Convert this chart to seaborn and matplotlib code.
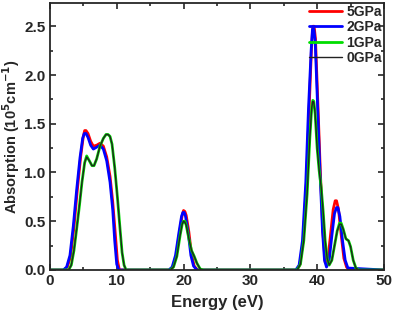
import numpy as np
import pandas as pd
import matplotlib
matplotlib.use("Agg")
import matplotlib.pyplot as plt
from matplotlib.ticker import MultipleLocator
import seaborn as sns

sns.set_style("ticks")
plt.rcParams['font.family'] = ['Liberation Sans', 'DejaVu Sans']
plt.rcParams['font.weight'] = 'bold'
plt.rcParams['axes.labelweight'] = 'bold'
plt.rcParams['mathtext.default'] = 'bf'

# absorption spectra (energy in eV, absorption in 1e5 cm^-1)
e_5gpa = [0, 2.1, 2.6, 3.1, 3.6, 4.1, 4.6, 5.0, 5.2, 5.4, 5.7, 6.1, 6.5, 7.0, 7.5, 8.0, 8.5, 9.0, 9.4, 9.8, 10.1, 10.4,
          17.9, 18.4, 18.9, 19.4, 19.8, 20.0, 20.2, 20.4, 20.8, 21.2, 21.6, 22.1,
          36.9, 37.4, 37.9, 38.4, 38.8, 39.15, 39.35, 39.55, 39.75, 40.05, 40.45, 40.85, 41.2, 41.6, 42.0, 42.4, 42.7, 42.9,
          43.2, 43.6, 44.0, 44.4, 44.8, 50]
a_5gpa = [0, 0, 0.03, 0.14, 0.44, 0.82, 1.16, 1.37, 1.43, 1.43, 1.40, 1.32, 1.27, 1.28, 1.30, 1.27, 1.16, 0.96, 0.70, 0.36, 0.10, 0,
          0, 0.03, 0.15, 0.38, 0.56, 0.61, 0.60, 0.56, 0.39, 0.16, 0.04, 0,
          0, 0.05, 0.30, 0.90, 1.65, 2.27, 2.50, 2.50, 2.37, 1.82, 1.06, 0.40, 0.08, 0.10, 0.36, 0.62, 0.71, 0.71,
          0.62, 0.36, 0.12, 0.03, 0, 0]

e_2gpa = [0, 2.0, 2.5, 3.0, 3.5, 4.0, 4.5, 4.9, 5.15, 5.4, 5.7, 6.1, 6.5, 7.0, 7.5, 8.0, 8.5, 9.0, 9.4, 9.7, 10.0, 10.3,
          17.8, 18.3, 18.8, 19.3, 19.7, 19.9, 20.1, 20.3, 20.7, 21.1, 21.5, 22.0,
          36.8, 37.3, 37.8, 38.3, 38.7, 39.1, 39.3, 39.5, 39.7, 40.0, 40.4, 40.8, 41.1, 41.4, 41.8, 42.2, 42.6, 42.9, 43.1,
          43.4, 43.8, 44.2, 44.6, 50]
a_2gpa = [0, 0, 0.03, 0.15, 0.45, 0.82, 1.15, 1.35, 1.40, 1.40, 1.36, 1.28, 1.24, 1.26, 1.28, 1.24, 1.12, 0.90, 0.62, 0.30, 0.06, 0,
          0, 0.03, 0.15, 0.38, 0.55, 0.59, 0.59, 0.55, 0.38, 0.15, 0.04, 0,
          0, 0.05, 0.30, 0.90, 1.65, 2.25, 2.47, 2.47, 2.35, 1.80, 1.05, 0.40, 0.10, 0.03, 0.10, 0.35, 0.58, 0.64, 0.64,
          0.55, 0.30, 0.10, 0.02, 0]

e_1gpa = [0, 2.8, 3.2, 3.6, 4.0, 4.4, 4.8, 5.2, 5.5, 5.9, 6.3, 6.6, 7.0, 7.5, 8.0, 8.4, 8.7, 9.0, 9.3, 9.7, 10.1, 10.5, 10.8, 11.1, 11.4,
          18.0, 18.5, 19.0, 19.5, 19.8, 20.0, 20.2, 20.4, 20.8, 21.2, 21.6, 22.0, 22.5, 23.0,
          37.0, 37.5, 38.0, 38.5, 38.9, 39.2, 39.35, 39.5, 39.7, 40.0, 40.3, 40.6, 40.9, 41.2, 41.5, 41.8, 42.2, 42.6, 43.0,
          43.35, 43.6, 43.9, 44.3, 44.7, 45.0, 45.4, 45.8, 46.2, 50]
a_1gpa = [0, 0, 0.05, 0.20, 0.42, 0.65, 0.90, 1.10, 1.17, 1.12, 1.07, 1.07, 1.14, 1.27, 1.35, 1.39, 1.39, 1.37, 1.29, 1.05, 0.75, 0.42, 0.18, 0.05, 0,
          0, 0.03, 0.14, 0.36, 0.47, 0.50, 0.50, 0.46, 0.32, 0.20, 0.14, 0.07, 0.01, 0,
          0, 0.06, 0.30, 0.78, 1.35, 1.68, 1.74, 1.73, 1.60, 1.25, 1.02, 0.85, 0.60, 0.30, 0.12, 0.05, 0.10, 0.25, 0.40,
          0.48, 0.48, 0.42, 0.32, 0.30, 0.24, 0.10, 0.02, 0, 0]

e_0gpa = e_1gpa
a_0gpa = [0, 0, 0.05, 0.20, 0.42, 0.65, 0.90, 1.10, 1.16, 1.12, 1.07, 1.07, 1.14, 1.27, 1.35, 1.39, 1.39, 1.37, 1.29, 1.05, 0.75, 0.42, 0.18, 0.05, 0,
          0, 0.03, 0.14, 0.36, 0.47, 0.50, 0.49, 0.46, 0.32, 0.20, 0.14, 0.07, 0.01, 0,
          0, 0.06, 0.30, 0.78, 1.35, 1.67, 1.73, 1.72, 1.60, 1.25, 1.02, 0.85, 0.60, 0.30, 0.12, 0.05, 0.10, 0.25, 0.40,
          0.47, 0.47, 0.42, 0.32, 0.30, 0.24, 0.10, 0.02, 0, 0]

series = [("5GPa", e_5gpa, a_5gpa, "#ff0000", 2.0),
          ("2GPa", e_2gpa, a_2gpa, "#0000ff", 2.0),
          ("1GPa", e_1gpa, a_1gpa, "#00dd00", 2.0),
          ("0GPa", e_0gpa, a_0gpa, "#222222", 1.0)]

fig, ax = plt.subplots(figsize=(3.93, 3.18), dpi=100)
fig.subplots_adjust(left=0.127, right=0.977, bottom=0.151, top=0.991)

for name, e, a, col, lw in series:
    sns.lineplot(x=e, y=a, ax=ax, color=col, lw=lw, label=name, estimator=None)

ax.set_xlim(0, 50)
ax.set_ylim(0, 2.74)
ax.xaxis.set_major_locator(MultipleLocator(10))
ax.xaxis.set_minor_locator(MultipleLocator(5))
ax.yaxis.set_major_locator(MultipleLocator(0.5))
ax.yaxis.set_minor_locator(MultipleLocator(0.25))
ax.tick_params(which='both', direction='in', top=True, right=True, width=1.2, labelsize=11, pad=3)
ax.tick_params(which='major', length=4.5)
ax.tick_params(which='minor', length=2.5)
for sp in ax.spines.values():
    sp.set_linewidth(1.3)
for lab in ax.get_xticklabels() + ax.get_yticklabels():
    lab.set_fontweight('bold')

ax.set_xlabel('Energy (eV)', fontsize=12, fontweight='bold', labelpad=5)
ax.set_ylabel(r'Absorption (10$^{5}$cm$^{-1}$)', fontsize=10.5, fontweight='bold')
ax.yaxis.set_label_coords(-0.083, 0.5)

leg = ax.legend(loc='upper right', bbox_to_anchor=(1.0, 1.0), frameon=False, fontsize=10,
                handlelength=2.4, handletextpad=0.3, labelspacing=0.1, borderaxespad=0.0, borderpad=0.15)
for t in leg.get_texts():
    t.set_fontweight('bold')

fig.savefig('out.png', dpi=100)
